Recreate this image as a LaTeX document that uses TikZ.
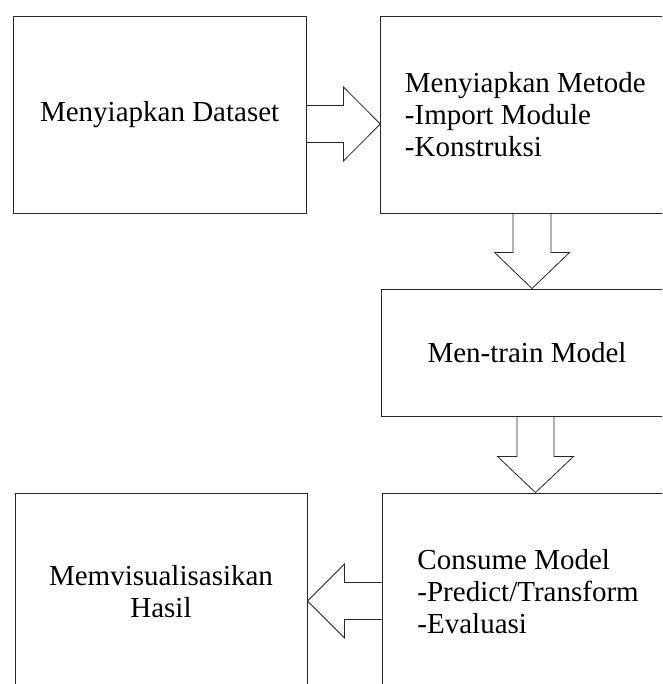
\documentclass[tikz,border=0pt]{standalone}
\usepackage{fontspec}
\setmainfont{Liberation Serif}
\usetikzlibrary{calc}
\begin{document}
\begin{tikzpicture}[x=1pt,y=-1pt,
  boxstyle/.style={draw=black!85,line width=0.9pt,rectangle,inner sep=0pt,
    font=\fontsize{29}{32}\selectfont,align=center},
  txt/.style={inner sep=0pt,font=\fontsize{29}{32}\selectfont,align=left,anchor=west},
  blockarrow/.style={draw=black!85,line width=0.8pt,line join=miter}]
\useasboundingbox (0,0) rectangle (662,684);
\clip (0,0) rectangle (662,684);
\fill[white] (0,0) rectangle (662,684);
% boxes
\node[boxstyle,minimum width=292.7pt,minimum height=197pt] (b1) at (159.65,114.5) {Menyiapkan Dataset};
\node[boxstyle,minimum width=292.7pt,minimum height=197pt] (b2) at (527.05,114.5) {};
\node[txt] (t2) at ($(b2.west)+(24.5,0)$) {Menyiapkan Metode\\-Import Module\\-Konstruksi};
\node[boxstyle,minimum width=292pt,minimum height=127pt] (b3) at (527,352.5) {Men-train Model};
\node[boxstyle,minimum width=292.7pt,minimum height=197pt] (b4) at (528.35,591.5) {};
\node[txt] (t4) at ($(b4.west)+(35.7,0)$) {Consume Model\\-Predict/Transform\\-Evaluasi};
\node[boxstyle,minimum width=292pt,minimum height=197pt] (b5) at (161,591.5) {Memvisualisasikan\\Hasil};
% arrow b1 -> b2
\coordinate (a1s) at ($(b1.east)+(0,9.5)$);
\coordinate (a1t) at ($(b2.west)+(0,9.5)$);
\draw[blockarrow] ($(a1s)+(0,-18.5)$) -- ($(a1s)+(37,-18.5)$) -- ($(a1s)+(37,-37)$)
  -- (a1t) -- ($(a1s)+(37,37)$) -- ($(a1s)+(37,18.5)$) -- ($(a1s)+(0,18.5)$);
% arrow b2 -> b3
\coordinate (a2s) at ($(b2.south)+(5,0)$);
\coordinate (a2t) at ($(b3.north)+(5,0)$);
\draw[blockarrow] ($(a2s)+(-19,0)$) -- ($(a2s)+(-19,39)$) -- ($(a2s)+(-37.5,39)$)
  -- (a2t) -- ($(a2s)+(37.5,39)$) -- ($(a2s)+(19,39)$) -- ($(a2s)+(19,0)$);
% arrow b3 -> b4
\coordinate (a3s) at ($(b3.south)+(8.5,0)$);
\coordinate (a3t) at ($(b4.north)+(7.15,0)$);
\draw[blockarrow] ($(a3s)+(-18.5,0)$) -- ($(a3s)+(-18.5,40)$) -- ($(a3s)+(-38,40)$)
  -- (a3t) -- ($(a3s)+(38,40)$) -- ($(a3s)+(18.5,40)$) -- ($(a3s)+(18.5,0)$);
% arrow b4 -> b5
\coordinate (a4s) at ($(b4.west)+(0,9.5)$);
\coordinate (a4t) at ($(b5.east)+(0,9.5)$);
\draw[blockarrow] ($(a4s)+(0,-18.5)$) -- ($(a4s)+(-37,-18.5)$) -- ($(a4s)+(-37,-37)$)
  -- (a4t) -- ($(a4s)+(-37,37)$) -- ($(a4s)+(-37,18.5)$) -- ($(a4s)+(0,18.5)$);
\end{tikzpicture}
\end{document}
